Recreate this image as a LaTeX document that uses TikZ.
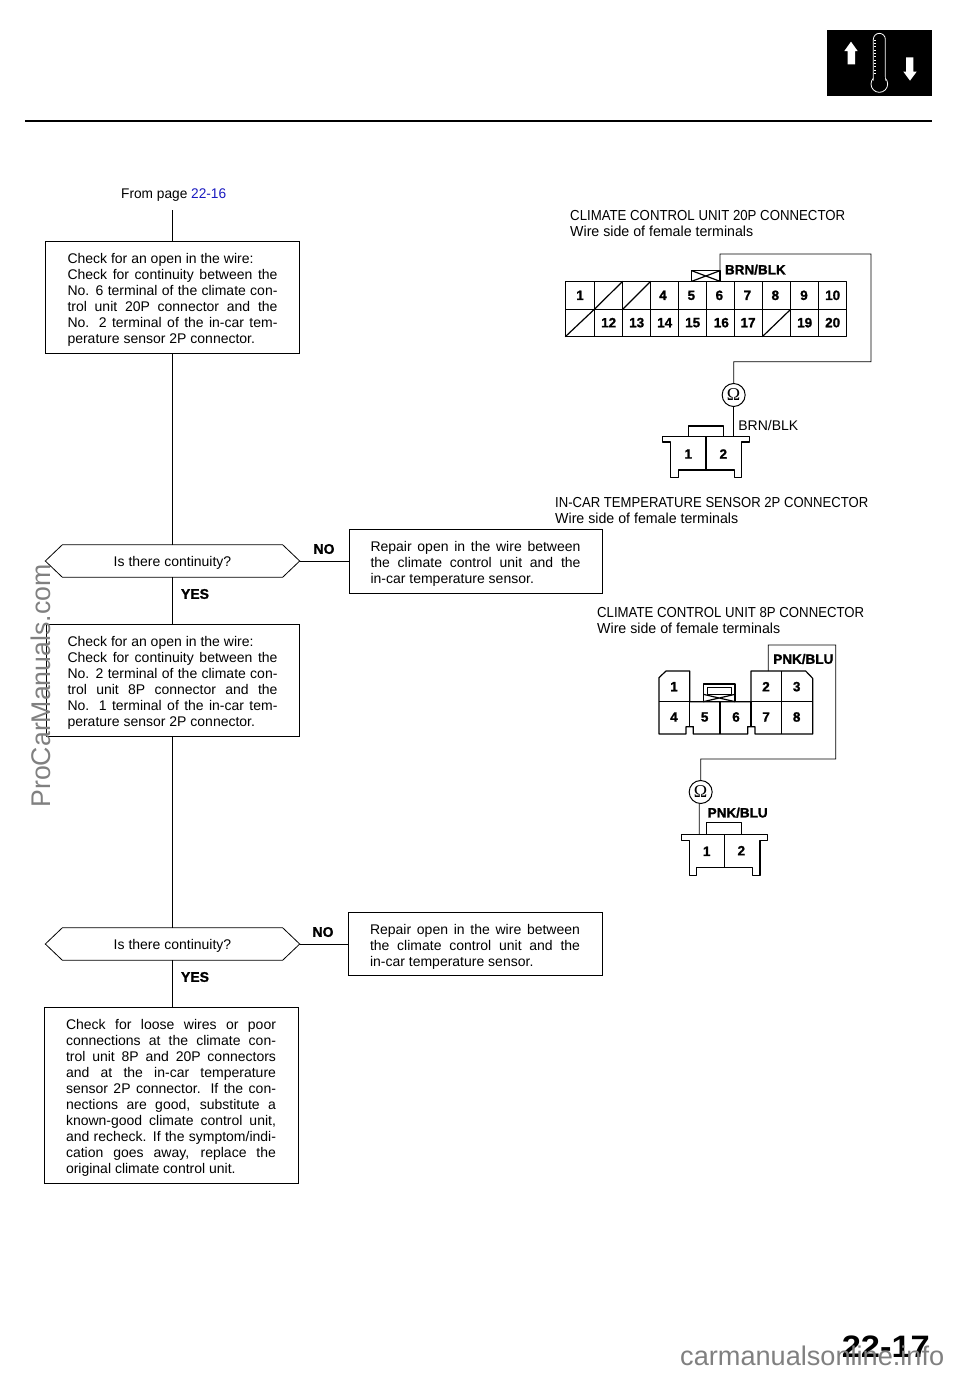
\documentclass[tikz,border=0pt]{standalone}
\usepackage{fontspec}
\usepackage{graphicx}
\setmainfont{Liberation Sans}
\newfontfamily\hvb{Liberation Sans}[BoldFeatures={FakeBold=1.2}]
\newfontfamily\srf{Liberation Serif}
\newcommand{\jl}[1]{\makebox[210pt][s]{#1}}
\newcommand{\fit}[2]{\resizebox{#1pt}{\height}{#2}}
\newcommand{\tp}{\rule{0pt}{16pt}}
\tikzset{
  x=1pt,y=-1pt,
  wire/.style={draw=black,line width=0.8pt},
  conn/.style={draw=black,line width=1.2pt,line join=round},
  bx/.style={draw=black,line width=0.8pt,rectangle,inner sep=0pt,align=left,minimum width=254pt,font=\fontsize{14}{16}\selectfont},
  dec/.style={rectangle,inner sep=0pt,minimum width=254pt,minimum height=32pt,font=\fontsize{14}{16}\selectfont,text depth=0pt},
  lab/.style={inner sep=0pt,anchor=west,font=\fontsize{14.5}{16}\selectfont},
  yn/.style={inner sep=0pt,font=\fontsize{14}{16}\hvb\bfseries\selectfont},
  pin/.style={inner sep=0pt,font=\fontsize{13.5}{14}\hvb\bfseries\selectfont},
  ohm/.style={draw=black,line width=1pt,circle,fill=white,inner sep=0pt,minimum size=23pt,font=\fontsize{18}{18}\srf\selectfont},
}
\begin{document}
\begin{tikzpicture}
\useasboundingbox (0,0) rectangle (960,1373);
% header
\draw[line width=2.4pt] (25,121) -- (932,121);
\fill[black] (827,30) rectangle (932,96);
\begin{scope}[shift={(800,10)},scale=1/3]
  \fill[white] (143,163) -- (143,123) -- (133,123) -- (153,95) -- (173,123) -- (165,123) -- (165,163) -- cycle;
  \fill[white] (318,142) -- (318,185) -- (310,185) -- (330,212) -- (350,185) -- (340,185) -- (340,142) -- cycle;
  \draw[white,line width=0.8pt] (238,222) circle[radius=25];
  \draw[white,fill=black,line width=0.8pt,rounded corners=6pt] (220,212) -- (220,70) -- (256,70) -- (256,212);
  \fill[black] (221,200) rectangle (255,215);
  \foreach \t in {90,100,...,190} \draw[white,line width=0.7pt] (221,\t) -- (228,\t);
\end{scope}
% flow
\node[inner sep=0pt,anchor=west,font=\fontsize{14}{16}\selectfont] (from) at (121,195) {\fit{105}{From page \textcolor[rgb]{0.1,0.1,0.75}{22-16}}};
\coordinate (t0) at (172.5,210);
\node[bx,minimum height=112pt] (b1) at (172.5,297) {\tp Check for an open in the wire:\\
\jl{Check for continuity between the}\\
\jl{No. 6 terminal of the climate con-}\\
\jl{trol unit 20P connector and the}\\
\jl{No. 2 terminal of the in-car tem-}\\
perature sensor 2P connector.};
\node[dec] (d1) at (172.5,561) {Is there continuity?};
\node[bx,minimum height=64pt,minimum width=253pt] (r1) at (475.5,561) {\tp\jl{Repair open in the wire between}\\
\jl{the climate control unit and the}\\
in-car temperature sensor.};
\node[yn] (n1) at (324,549) {NO};
\node[yn] (y1) at (195,594) {YES};
\node[bx,minimum height=112pt,minimum width=253pt] (b2) at (172.5,680) {\tp Check for an open in the wire:\\
\jl{Check for continuity between the}\\
\jl{No. 2 terminal of the climate con-}\\
\jl{trol unit 8P connector and the}\\
\jl{No. 1 terminal of the in-car tem-}\\
perature sensor 2P connector.};
\node[dec] (d2) at (172.5,944) {Is there continuity?};
\node[bx,minimum height=63pt] (r2) at (475,943.5) {\tp\jl{Repair open in the wire between}\\
\jl{the climate control unit and the}\\
in-car temperature sensor.};
\node[yn] (n2) at (323,932) {NO};
\node[yn] (y2) at (195,977) {YES};
\node[bx,minimum height=176pt] (b3) at (171,1095) {\tp\jl{Check for loose wires or poor}\\
\jl{connections at the climate con-}\\
\jl{trol unit 8P and 20P connectors}\\
\jl{and at the in-car temperature}\\
\jl{sensor 2P connector. If the con-}\\
\jl{nections are good, substitute a}\\
\jl{known-good climate control unit,}\\
\jl{and recheck. If the symptom/indi-}\\
\jl{cation goes away, replace the}\\
original climate control unit.};
\foreach \d in {d1,d2}
  \draw[line width=0.8pt] (\d.west) -- ([xshift=17pt]\d.north west) -- ([xshift=-17pt]\d.north east) -- (\d.east) -- ([xshift=-17pt]\d.south east) -- ([xshift=17pt]\d.south west) -- cycle;
\draw[wire] (t0) -- (t0 |- b1.north);
\draw[wire] (b1.south) -- (d1.north);
\draw[wire] (d1.south) -- (b2.north);
\draw[wire] (b2.south) -- (d2.north);
\draw[wire] (d2.south) -- (d2.south |- b3.north);
\draw[wire] (d1.east) -- (r1.west |- d1.east);
\draw[wire] (d2.east) -- (r2.west |- d2.east);
% headings
\node[lab] (h1) at (570,215.5) {\fit{275}{CLIMATE CONTROL UNIT 20P CONNECTOR}};
\node[lab] (h2) at (570,231.5) {\fit{183}{Wire side of female terminals}};
\node[lab] (h3) at (555,502.5) {\fit{313}{IN-CAR TEMPERATURE SENSOR 2P CONNECTOR}};
\node[lab] (h4) at (555,518.5) {\fit{183}{Wire side of female terminals}};
\node[lab] (h5) at (597,612.5) {\fit{267}{CLIMATE CONTROL UNIT 8P CONNECTOR}};
\node[lab] (h6) at (597,628.5) {\fit{183}{Wire side of female terminals}};
% 20P connector
\begin{scope}[shift={(550,240)},scale=1/3]
  \draw[conn] (46,124) rectangle (890,290);
  \draw[conn] (46,208) -- (890,208);
  \foreach \c in {133,218,302,385,470,553,637,722,805} \draw[conn] (\c,124) -- (\c,290);
  \draw[conn] (133,208) -- (218,124);
  \draw[conn] (218,208) -- (302,124);
  \draw[conn] (46,290) -- (133,208);
  \draw[conn] (637,290) -- (722,208);
  \draw[conn] (425,124) rectangle (510,92);
  \draw[conn] (425,92) -- (510,124) (425,124) -- (510,92);
  \foreach \x/\l in {90/1,339/4,424/5,508/6,592/7,676/8,762/9,848/10}
    \node[pin] (p\l) at (\x,166) {\l};
  \foreach \x/\l in {176/12,260/13,344/14,428/15,514/16,594/17,764/19,848/20}
    \node[pin] (p\l) at (\x,248) {\l};
  \node[pin] (bb) at (616,89) {BRN/BLK};
  \coordinate (wa) at (510,92);
  \coordinate (wb) at (963,42);
  \coordinate (wc) at (551,365);
  \node[ohm] (om1) at (551,465) {Ω};
  \coordinate (cn1) at (551,590);
  \draw[wire] (wa) -- (510,42) -- (wb) -- (963,365) -- (wc) -- (om1.north);
  \draw[wire] (om1.south) -- (cn1);
  % 2P
  \draw[conn] (338,590) -- (598,590) -- (598,606) -- (575,606) -- (575,713) -- (553,713) -- (553,690) -- (385,690) -- (385,713) -- (362,713) -- (362,606) -- (338,606) -- cycle;
  \draw[conn] (415,590) -- (415,558) -- (520,558) -- (520,590);
  \draw[conn] (468,590) -- (468,690);
  \node[pin] (q1) at (415,642) {1};
  \node[pin] (q2) at (520,642) {2};
  \node[inner sep=0pt,font=\fontsize{14}{16}\selectfont] (bl) at (655,556) {BRN/BLK};
\end{scope}
% 8P connector
\begin{scope}[shift={(640,635)},scale=1/3]
  \draw[conn] (57,297) -- (57,128) -- (78,108) -- (149,108) -- (149,200) -- (333,200) -- (333,108) -- (497,108) -- (518,130) -- (518,297) -- (345,297) -- (345,275) -- (323,275) -- (323,297) -- (160,297) -- (160,275) -- (138,275) -- (138,297) -- cycle;
  \draw[conn] (57,200) -- (518,200);
  \draw[conn] (149,200) -- (149,275) (240,200) -- (240,297) (333,200) -- (333,275) (425,108) -- (425,297);
  \draw[conn] (190,200) -- (190,147) -- (285,147) -- (285,200);
  \draw[conn] (202,178) rectangle (275,158);
  \draw[conn] (190,178) -- (285,200) (190,200) -- (285,178);
  \foreach \x/\y/\l in {102/155/1,378/155/2,470/155/3,102/246/4,194/246/5,288/246/6,378/246/7,470/246/8}
    \node[pin] (r\l) at (\x,\y) {\l};
  \node[pin] (pb) at (490,72) {PNK/BLU};
  \node[pin] (pc) at (293,533) {PNK/BLU};
  \coordinate (va) at (385,108);
  \node[ohm] (om2) at (182,471) {Ω};
  \draw[wire] (va) -- (385,30) -- (587,30) -- (587,372) -- (182,372) -- (om2.north);
  \coordinate (cn2) at (178,598);
  \draw[wire] (178,507) -- (cn2);
  \draw[conn] (124,598) -- (382,598) -- (382,617) -- (360,617) -- (360,722) -- (337,722) -- (337,697) -- (170,697) -- (170,722) -- (148,722) -- (148,617) -- (124,617) -- cycle;
  \draw[conn] (200,598) -- (200,563) -- (304,563) -- (304,598);
  \draw[conn] (253,598) -- (253,697);
  \node[pin] (s1) at (200,649) {1};
  \node[pin] (s2) at (304,647) {2};
\end{scope}
% page no and watermarks
\node[inner sep=0pt,anchor=base east,font=\fontsize{31}{32}\bfseries\selectfont] (pg) at (930,1357) {\fit{88}{22-17}};
\node[inner sep=0pt,anchor=base west,text=black!50,font=\fontsize{27}{28}\selectfont] (wm1) at (680,1365) {\fit{264}{carmanualsonline.info}};
\node[inner sep=0pt,anchor=base,rotate=90,text=black!50,font=\fontsize{27}{28}\selectfont] (wm2) at (50,686) {\fit{243}{ProCarManuals.com}};
\end{tikzpicture}
\end{document}
